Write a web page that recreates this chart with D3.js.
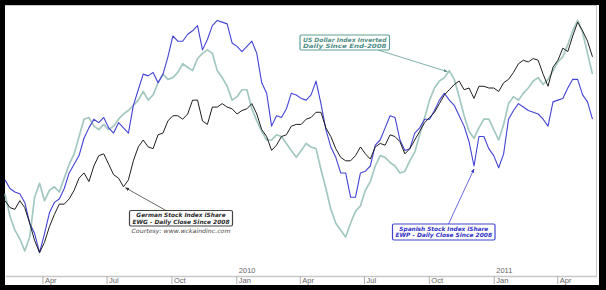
<!DOCTYPE html>
<html>
<head>
<meta charset="utf-8">
<script src="https://cdn.jsdelivr.net/npm/d3@7"></script>
<style>
  html, body { margin: 0; padding: 0; background: #000; }
  svg { display: block; }
</style>
</head>
<body>
<svg id="chart" width="606" height="290"></svg>
<script>
// weekly closes, relative index (all three series share one hidden scale)
var startDate = "2009-02-07";

var germanEWG = [40,36,35,40,36,27,17,10,16,25,32,38,38,41,46,53,56,51,60,66,
  67,61,55,53,48,52,63,71,75,71,70,78,79,86,89,89,87,90,98,98,
  86,84,94,94,96,94,93,90,92,93,96,90,81,77,69,72,77,78,83,84,
  84,87,88,91,91,82,77,70,65,63,63,66,71,67,64,71,73,72,78,77,
  74,67,70,75,80,85,88,91,96,101,104,107,109,104,105,99,106,106,105,105,
  103,108,110,114,119,121,120,122,121,113,106,117,121,128,126,135,143,138,132,123];

var spanishEWP = [52,47,45,44,39,27,21,10,21,33,39,41,47,56,61,66,76,82,87,85,
  88,82,79,85,82,79,95,104,113,112,114,108,113,123,135,132,132,136,138,141,
  127,133,141,144,143,142,131,129,126,129,132,125,108,102,83,89,88,93,102,101,
  99,98,101,109,96,81,71,65,56,56,42,42,56,57,60,72,75,82,89,88,
  75,69,70,79,82,87,87,92,98,102,98,95,89,83,74,60,77,77,70,66,
  59,67,87,92,96,94,92,91,90,87,83,97,98,99,105,110,110,101,97,87];

var dollarInv = [44,31,23,18,11,19,42,50,40,46,48,45,53,61,67,77,87,88,83,81,
  84,81,83,87,90,92,95,98,103,98,101,108,113,110,111,114,119,117,115,122,
  125,127,125,115,111,106,98,100,104,104,93,86,80,75,75,78,77,73,69,65,
  69,73,71,70,58,47,35,27,23,19,27,34,37,46,51,60,66,65,62,60,
  56,57,63,68,78,88,98,105,109,111,115,110,100,89,80,76,82,87,87,81,
  75,84,96,100,98,102,105,109,111,107,110,115,120,123,130,138,144,137,125,113];

var seriesList = [
  {name: "US Dollar Index Inverted", values: dollarInv, color: "#a2c8c1", width: 1.7},
  {name: "Spanish Stock Index iShare", values: spanishEWP, color: "#4343d4", width: 1.1},
  {name: "German Stock Index iShare", values: germanEWG, color: "#1e1e1e", width: 1.0}
];

var svg = d3.select("#chart"),
  width = +svg.attr("width"),
  height = +svg.attr("height");

var x = d3.scaleTime()
  .domain([new Date(2009, 1, 7), new Date(2011, 4, 26)])
  .range([5, 596]);

var y = d3.scaleLinear()
  .domain([0, 150])
  .range([270, 10]);

var t0 = d3.timeParse("%Y-%m-%d")(startDate);
var dates = germanEWG.map(function(v, i) { return d3.timeDay.offset(t0, i * 7); });

// white panel inside the black frame
svg.append("rect")
  .attr("x", 5).attr("y", 5)
  .attr("width", 594).attr("height", 280)
  .attr("fill", "#fff");

svg.append("line")
  .attr("x1", 5).attr("x2", 597).attr("y1", 5.5).attr("y2", 5.5)
  .attr("stroke", "#c8c8c8").attr("stroke-width", 1);

svg.append("line")
  .attr("x1", 596.5).attr("x2", 596.5).attr("y1", 5).attr("y2", 277)
  .attr("stroke", "#c8c8c8").attr("stroke-width", 1);

// axis
var axis = d3.axisBottom(x)
  .ticks(d3.timeMonth.every(3))
  .tickSize(8)
  .tickSizeOuter(0)
  .tickFormat(d3.timeFormat("%b"));

var gx = svg.append("g")
  .attr("transform", "translate(0,276)")
  .call(axis);

gx.select(".domain").attr("stroke", "#c8c8c8").attr("stroke-width", 1.5);
gx.selectAll(".tick line").attr("stroke", "#b0b0b0");
gx.selectAll(".tick text")
  .attr("x", 2).attr("y", 2).attr("dy", "0.71em")
  .attr("text-anchor", "start")
  .attr("fill", "#666")
  .style("font", "7.5px 'Liberation Sans', Arial, sans-serif");

gx.selectAll(".tick")
  .filter(function(d) { return d.getMonth() === 0; })
  .append("text")
  .attr("x", 2).attr("y", -3)
  .attr("text-anchor", "start")
  .attr("fill", "#666")
  .style("font", "7.5px 'Liberation Sans', Arial, sans-serif")
  .text(function(d) { return d.getFullYear(); });

// lines
var line = d3.line()
  .x(function(d, i) { return x(dates[i]); })
  .y(function(d) { return y(d); });

svg.append("g")
  .selectAll("path")
  .data(seriesList)
  .enter().append("path")
  .attr("fill", "none")
  .attr("stroke", function(d) { return d.color; })
  .attr("stroke-width", function(d) { return d.width; })
  .attr("stroke-linejoin", "round")
  .attr("d", function(d) { return line(d.values); });

// annotations
var defs = svg.append("defs");
function marker(id, color) {
  defs.append("marker")
    .attr("id", id)
    .attr("viewBox", "0 0 10 10")
    .attr("refX", 9).attr("refY", 5)
    .attr("markerWidth", 5).attr("markerHeight", 5)
    .attr("orient", "auto")
    .append("path")
    .attr("d", "M0,1L10,5L0,9z")
    .attr("fill", color);
}
marker("arrGer", "#333");
marker("arrUsd", "#5f8f8a");
marker("arrEsp", "#3434c8");

var notes = [
  {lines: ["German Stock Index iShare", "EWG - Daily Close Since 2008"],
   box: [129.5, 210.5, 103, 15.5], color: "#2a2a2a", border: "#444",
   from: [166, 210.5], series: germanEWG, idx: 24, dx: 2, dy: 1, arrow: "arrGer"},
  {lines: ["US Dollar Index Inverted", "Daily Since End-2008"],
   box: [300, 35, 89.5, 15], color: "#4d8c84", border: "#5f9e96",
   from: [378, 50], series: dollarInv, idx: 90, dx: -2, dy: 1, arrow: "arrUsd"},
  {lines: ["Spanish Stock Index iShare", "EWP - Daily Close Since 2008"],
   box: [392.5, 224, 102.5, 16], color: "#3030c8", border: "#4444d0",
   from: [448.5, 224], series: spanishEWP, idx: 95, dx: 0, dy: 3, arrow: "arrEsp"}
];

notes.forEach(function(n) {
  var tx = x(dates[n.idx]) + n.dx, ty = y(n.series[n.idx]) + n.dy;
  svg.append("line")
    .attr("x1", n.from[0]).attr("y1", n.from[1])
    .attr("x2", tx).attr("y2", ty)
    .attr("stroke", n.border).attr("stroke-width", 0.8)
    .attr("marker-end", "url(#" + n.arrow + ")");

  svg.append("rect")
    .attr("x", n.box[0]).attr("y", n.box[1])
    .attr("width", n.box[2]).attr("height", n.box[3])
    .attr("rx", 1.5)
    .attr("fill", "#fff")
    .attr("stroke", n.border).attr("stroke-width", 1.2);

  n.lines.forEach(function(s, k) {
    svg.append("text")
      .attr("x", n.box[0] + n.box[2] / 2)
      .attr("y", n.box[1] + 6.8 + k * 6.3)
      .attr("text-anchor", "middle")
      .attr("fill", n.color)
      .attr("textLength", (n.box[2] - 6) * (k === 0 && n.lines[0].length < n.lines[1].length ? 0.92 : 1))
      .attr("lengthAdjust", "spacingAndGlyphs")
      .style("font", "italic bold 5.8px 'DejaVu Sans', Verdana, sans-serif")
      .text(s);
  });
});

svg.append("text")
  .attr("x", 181).attr("y", 233)
  .attr("text-anchor", "middle")
  .attr("fill", "#444")
  .attr("textLength", 99)
  .attr("lengthAdjust", "spacingAndGlyphs")
  .style("font", "italic 5.8px 'DejaVu Sans', Verdana, sans-serif")
  .text("Courtesy: www.wckaindinc.com");
</script>
</body>
</html>
